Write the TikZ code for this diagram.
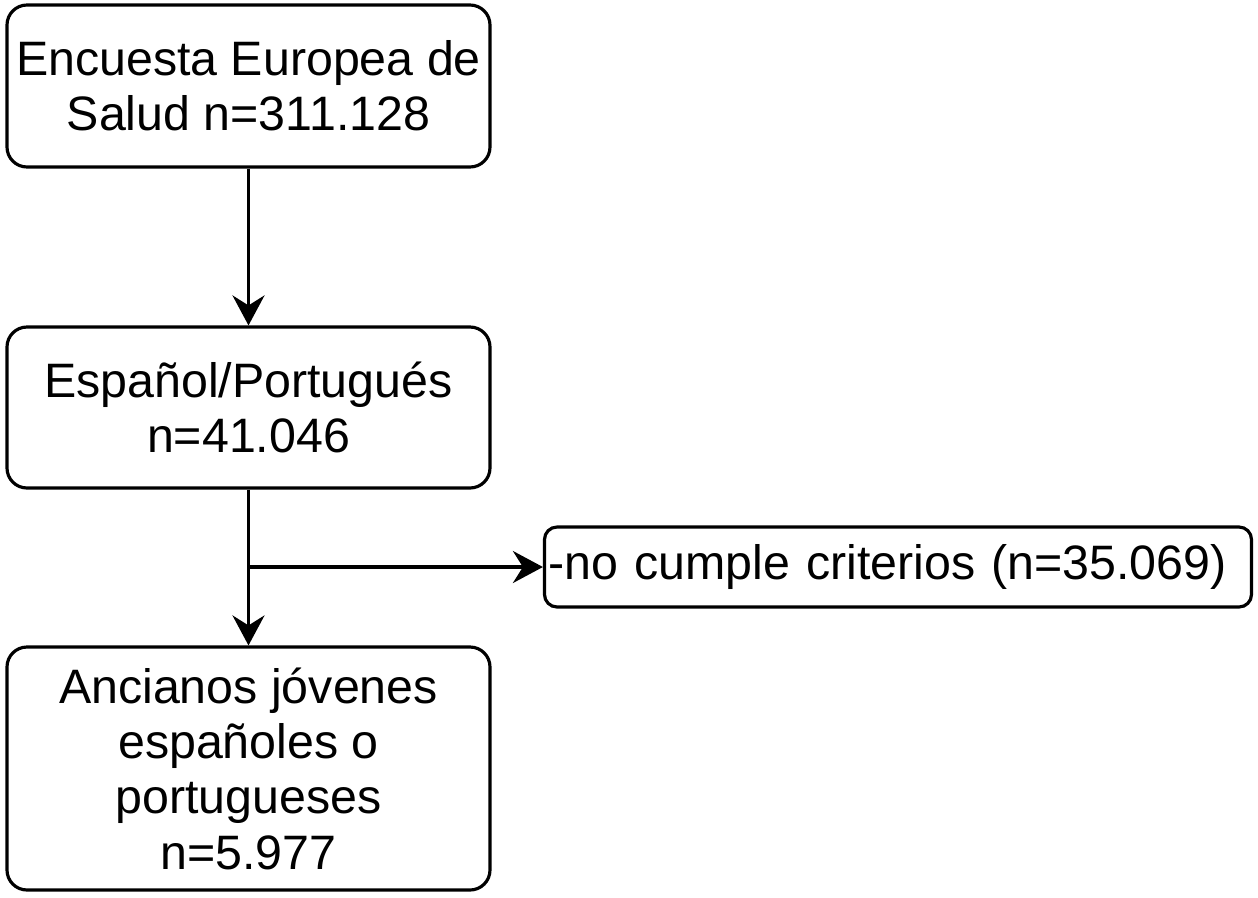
\documentclass[tikz,border=0pt]{standalone}
\usepackage{fontspec}
\setmainfont{Liberation Sans}
\usetikzlibrary{positioning, calc, arrows.meta}

\begin{document}
\begin{tikzpicture}[
  font=\fontsize{27.5}{31.5}\selectfont,
  stepbox/.style={draw=black, line width=1.8pt, rounded corners=0.4cm,
    minimum width=9.66cm, align=center, inner sep=0pt},
  flow/.style={line width=1.8pt,
    -{Stealth[length=0.6cm, width=0.64cm, inset=0.2cm]}},
]
% -------- canvas (1 px = 0.02 cm) --------
\useasboundingbox (0,0) rectangle (25.16,-17.94);

% =====================================================================
% main column
% =====================================================================
\node[stepbox, minimum height=3.24cm] (survey) at (4.97,-1.72)
  {Encuesta Europea de\\Salud n=311.128};
\node[stepbox, minimum height=3.22cm] (country) at (4.97,-8.15)
  {Español/Portugués\\n=41.046};
\node[stepbox, minimum height=4.86cm] (elderly) at (4.97,-15.37)
  {Ancianos jóvenes\\españoles o\\portugueses\\n=5.977};

% =====================================================================
% exclusion box on the right
% =====================================================================
\node[draw=black, line width=1.8pt, rounded corners=0.25cm,
  minimum width=14.14cm, minimum height=1.6cm, inner sep=0pt,
  text width=13.98cm, align=left] (excl) at (17.96,-11.34)
  {-no cumple criterios (n=35.069)};

% -------- connectors --------
\draw[flow] (survey) -- (country);
\draw[flow] (country) -- (elderly);
\coordinate (split) at (country.south |- excl.west);
\draw[flow] (split) -- (excl.west);

\end{tikzpicture}
\end{document}
